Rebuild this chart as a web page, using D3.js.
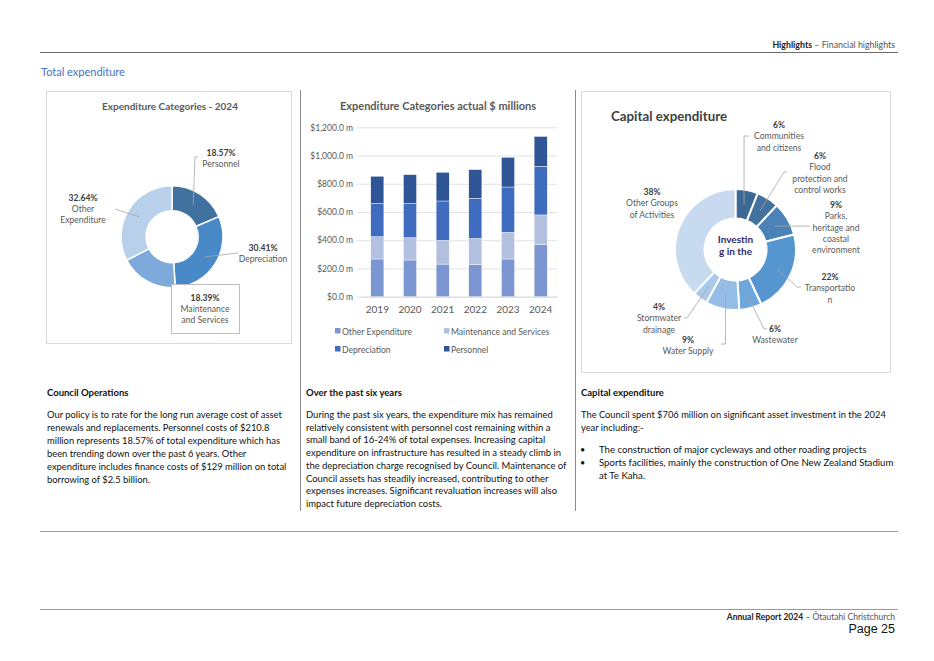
<!DOCTYPE html>
<html><head><meta charset="utf-8">
<script src="https://cdn.jsdelivr.net/npm/d3@7"></script>
<style>
html,body{margin:0;padding:0;background:#fff;}
svg{display:block;font-family:Lato, "Open Sans", sans-serif;}
</style></head>
<body><svg id="c" width="934" height="661"></svg>
<script>
// ---------- DATA ----------
const pie1Categories = ["Personnel", "Depreciation", "Maintenance and Services", "Other Expenditure"];
const pie1Values = [18.57, 30.41, 18.39, 32.64];

const barYears = ["2019", "2020", "2021", "2022", "2023", "2024"];
const barSeries = ["Other Expenditure", "Maintenance and Services", "Depreciation", "Personnel"];
const otherExpenditure = [267, 260, 231, 227, 267, 370.5];
const maintenanceServices = [158, 158, 168, 186, 189, 208.7];
const depreciation = [236, 243, 279, 284, 321, 345.2];
const personnel = [192, 203, 203, 203, 210, 210.8];
const barTicks = [0, 200, 400, 600, 800, 1000, 1200];

const capCategories = ["Communities and citizens", "Flood protection and control works", "Parks, heritage and coastal environment", "Transportation", "Wastewater", "Water Supply", "Stormwater drainage", "Other Groups of Activities"];
const capValues = [6, 6, 9, 22, 6, 9, 4, 38];

// ---------- STYLE / LAYOUT ----------
const svg = d3.select("#c");
const grey = "#595959";
const lead = "#a6a6a6";

svg.append("rect").attr("width", 934).attr("height", 661).attr("fill", "#fff");

// page header
svg.append("line").attr("x1", 40).attr("x2", 898).attr("y1", 52.5).attr("y2", 52.5).attr("stroke", "#6b6b6b").attr("stroke-width", 1);
const hdr = svg.append("text").attr("x", 895).attr("y", 48).attr("text-anchor", "end").attr("font-size", 8.8).attr("fill", "#222");
hdr.append("tspan").attr("font-weight", "bold").text("Highlights");
hdr.append("tspan").attr("fill", "#555").text(" – Financial highlights");

svg.append("text").attr("x", 41).attr("y", 76).attr("font-size", 11).attr("fill", "#4472c4").text("Total expenditure");

// vertical separators
[300.5, 575.5].forEach(x => svg.append("line").attr("x1", x).attr("x2", x).attr("y1", 90).attr("y2", 511).attr("stroke", "#8a8a8a").attr("stroke-width", 1));

// bottom lines
svg.append("line").attr("x1", 40).attr("x2", 898).attr("y1", 531.5).attr("y2", 531.5).attr("stroke", "#999").attr("stroke-width", 1);
svg.append("line").attr("x1", 40).attr("x2", 898).attr("y1", 609.5).attr("y2", 609.5).attr("stroke", "#999").attr("stroke-width", 1);
const ftr = svg.append("text").attr("x", 895).attr("y", 620).attr("text-anchor", "end").attr("font-size", 8.5).attr("fill", "#222");
ftr.append("tspan").attr("font-weight", "bold").text("Annual Report 2024");
ftr.append("tspan").attr("fill", "#555").text(" – Ōtautahi Christchurch");
svg.append("text").attr("x", 895).attr("y", 633).attr("text-anchor", "end").attr("font-size", 12.5).attr("font-family", "Liberation Sans, Arial, sans-serif").attr("fill", "#111").text("Page 25");

// ---------- PIE 1 ----------
svg.append("rect").attr("x", 46.5).attr("y", 91.5).attr("width", 245).attr("height", 252).attr("fill", "#fff").attr("stroke", "#d9d9d9");
svg.append("text").attr("x", 170).attr("y", 110).attr("text-anchor", "middle").attr("font-size", 10).attr("font-weight", "bold").attr("fill", grey).text("Expenditure Categories - 2024");

const p1c = [172, 236.7];
const pie1Colors = ["#41729f", "#4a89c8", "#7eaadb", "#b9d0ea"];
const pie1 = d3.pie().sort(null).startAngle(0).endAngle(2 * Math.PI)(pie1Values);
const arc1 = d3.arc().innerRadius(26).outerRadius(51);
const g1 = svg.append("g").attr("transform", `translate(${p1c})`);
g1.selectAll("path").data(pie1).join("path").attr("d", arc1).attr("fill", (d, i) => pie1Colors[i]).attr("stroke", "#fff").attr("stroke-width", 1.5);

// label layout for pie 1 (positions)
const pie1Labels = [
  {x: 221, y: 156, lines: ["Personnel"], elbow: [[195, 157], [198, 157]]},
  {x: 263, y: 251, lines: ["Depreciation"], elbow: [[238, 253]]},
  {x: 205, y: 301, lines: ["Maintenance", "and Services"], elbow: null, box: [171, 284, 68, 49]},
  {x: 83, y: 201, lines: ["Other", "Expenditure"], elbow: [[115, 209]]}
];
pie1Labels.forEach((L, i) => {
  const c = arc1.centroid(pie1[i]);
  const p0 = [c[0] + p1c[0], c[1] + p1c[1]];
  if (L.box) svg.append("rect").attr("x", L.box[0] + .5).attr("y", L.box[1] + .5).attr("width", L.box[2]).attr("height", L.box[3]).attr("fill", "#fff").attr("stroke", "#bfbfbf");
  if (L.elbow) svg.append("polyline").attr("points", [p0].concat(L.elbow).map(p => p.join(",")).join(" ")).attr("fill", "none").attr("stroke", lead).attr("stroke-width", 0.8);
  const t = svg.append("text").attr("text-anchor", "middle").attr("font-size", 8.6).attr("fill", grey);
  t.append("tspan").attr("x", L.x).attr("y", L.y).attr("font-weight", "bold").attr("fill", "#404040").text(d3.format(".2f")(pie1Values[i]) + "%");
  L.lines.forEach((s, k) => t.append("tspan").attr("x", L.x).attr("y", L.y + 11 * (k + 1)).text(s));
});

// ---------- BAR CHART ----------
svg.append("text").attr("x", 438).attr("y", 110).attr("text-anchor", "middle").attr("font-size", 11).attr("font-weight", "bold").attr("fill", grey).text("Expenditure Categories actual $ millions");
const x = d3.scaleBand().domain(barYears).range([361, 557]).paddingInner(0.6).paddingOuter(0.3);
const y = d3.scaleLinear().domain([0, 1200]).range([296.7, 127.3]);
const yAxis = svg.append("g").attr("transform", "translate(357,0)").call(d3.axisLeft(y).tickValues(barTicks).tickSize(-200).tickFormat(d => "$" + d3.format(",.1f")(d) + " m"));
yAxis.select(".domain").remove();
yAxis.selectAll(".tick line").attr("stroke", "#d9d9d9").attr("stroke-width", 0.8);
yAxis.selectAll(".tick text").attr("x", -4).attr("font-size", 8.5).attr("fill", grey).attr("font-family", "Lato, sans-serif");
const xAxis = svg.append("g").attr("transform", "translate(0,296.7)").call(d3.axisBottom(x).tickSize(0).tickPadding(9));
xAxis.select(".domain").attr("stroke", "#d9d9d9");
xAxis.selectAll(".tick text").attr("font-size", 10).attr("fill", grey).attr("font-family", "Lato, sans-serif");

const barColors = ["#7b96d0", "#b4c0e0", "#3f6cbf", "#2f5597"];
const rows = barYears.map((yr, i) => ({year: yr, "Other Expenditure": otherExpenditure[i], "Maintenance and Services": maintenanceServices[i], "Depreciation": depreciation[i], "Personnel": personnel[i]}));
const stacked = d3.stack().keys(barSeries)(rows);
svg.append("g").selectAll("g").data(stacked).join("g").attr("fill", (d, i) => barColors[i])
  .selectAll("rect").data(d => d).join("rect")
  .attr("x", d => x(d.data.year)).attr("width", x.bandwidth())
  .attr("y", d => y(d[1])).attr("height", d => y(d[0]) - y(d[1]))
  .attr("stroke", "#fff").attr("stroke-width", 0.4);

const legPos = [[335, 331.5], [444, 331.5], [335, 349.5], [444, 349.5]];
barSeries.forEach((s, i) => {
  svg.append("rect").attr("x", legPos[i][0]).attr("y", legPos[i][1] - 3.5).attr("width", 5.5).attr("height", 5.5).attr("fill", barColors[i]);
  svg.append("text").attr("x", legPos[i][0] + 7).attr("y", legPos[i][1] + 3).attr("font-size", 8.6).attr("fill", grey).text(s);
});

// ---------- PIE 2 ----------
svg.append("rect").attr("x", 581.5).attr("y", 91.5).attr("width", 309).attr("height", 281).attr("fill", "#fff").attr("stroke", "#d9d9d9");
svg.append("text").attr("x", 611).attr("y", 121).attr("font-size", 13.3).attr("font-weight", "bold").attr("fill", "#404040").text("Capital expenditure");

const p2c = [735.5, 249.5];
const capColors = ["#3c6994", "#43729f", "#4b82b8", "#5596d0", "#6ea7dc", "#95bde5", "#aac8ea", "#c8daf0"];
const pie2 = d3.pie().sort(null).startAngle(0).endAngle(2 * Math.PI)(capValues);
const arc2 = d3.arc().innerRadius(31).outerRadius(60.5);
const g2 = svg.append("g").attr("transform", `translate(${p2c})`);
g2.selectAll("path").data(pie2).join("path").attr("d", arc2).attr("fill", (d, i) => capColors[i]).attr("stroke", "#fff").attr("stroke-width", 2);
const ct = svg.append("text").attr("text-anchor", "middle").attr("font-size", 10).attr("font-weight", "bold").attr("fill", "#2f2a6b");
ct.append("tspan").attr("x", p2c[0]).attr("y", 243).text("Investin");
ct.append("tspan").attr("x", p2c[0]).attr("y", 255).text("g in the");

const capLabels = [
  {x: 779, y: 128, lines: ["Communities", "and citizens"], elbow: [[null, 136], [749, 136]]},
  {x: 820, y: 159, lines: ["Flood", "protection and", "control works"], elbow: [[784, 172], [787, 172]]},
  {x: 836, y: 208, lines: ["Parks,", "heritage and", "coastal", "environment"], elbow: [[810, 226]]},
  {x: 830, y: 280, lines: ["Transportatio", "n"], elbow: [[797, 287], [801, 287]]},
  {x: 775, y: 332, lines: ["Wastewater"], elbow: [[764, 329], [767, 329]]},
  {x: 688, y: 343, lines: ["Water Supply"], elbow: [[null, 344], [721, 344]]},
  {x: 659, y: 310, lines: ["Stormwater", "drainage"], elbow: [[687, 318], [684, 318]]},
  {x: 652, y: 195, lines: ["Other Groups", "of Activities"], elbow: null}
];
capLabels.forEach((L, i) => {
  const c = arc2.centroid(pie2[i]);
  const p0 = [c[0] + p2c[0], c[1] + p2c[1]];
  if (L.elbow) {
    const pts = [p0].concat(L.elbow.map(p => [p[0] === null ? p0[0] : p[0], p[1]]));
    svg.append("polyline").attr("points", pts.map(p => p.join(",")).join(" ")).attr("fill", "none").attr("stroke", lead).attr("stroke-width", 0.8);
  }
  const t = svg.append("text").attr("text-anchor", "middle").attr("font-size", 8.6).attr("fill", grey);
  t.append("tspan").attr("x", L.x).attr("y", L.y).attr("font-weight", "bold").attr("fill", "#404040").text(capValues[i] + "%");
  L.lines.forEach((s, k) => t.append("tspan").attr("x", L.x).attr("y", L.y + 11.3 * (k + 1)).text(s));
});

// ---------- BODY TEXT ----------
function para(x, y, lines, lh, targetW, size) {
  const t = svg.append("text").attr("font-size", size).attr("fill", "#111");
  lines.forEach((s, k) => t.append("tspan").attr("x", x).attr("y", y + lh * k).text(s));
  // fit font size so the first line matches the reference width
  const w = t.select("tspan").node().getComputedTextLength();
  t.attr("font-size", size * targetW / w);
  return t;
}
const bodyFont = 9.5;
svg.append("text").attr("x", 47).attr("y", 396).attr("font-size", 9.5).attr("font-weight", "bold").attr("fill", "#111").text("Council Operations");
para(47, 418, ["Our policy is to rate for the long run average cost of asset", "renewals and replacements. Personnel costs of $210.8", "million represents 18.57% of total expenditure which has", "been trending down over the past 6 years. Other", "expenditure includes finance costs of $129 million on total", "borrowing of $2.5 billion."], 13, 235, bodyFont);

svg.append("text").attr("x", 306).attr("y", 396).attr("font-size", 9.5).attr("font-weight", "bold").attr("fill", "#111").text("Over the past six years");
para(306, 418, ["During the past six years, the expenditure mix has remained", "relatively consistent with personnel cost remaining within a", "small band of 16-24% of total expenses. Increasing capital", "expenditure on infrastructure has resulted in a steady climb in", "the depreciation charge recognised by Council. Maintenance of", "Council assets has steadily increased, contributing to other", "expenses increases. Significant revaluation increases will also", "impact future depreciation costs."], 12.7, 247, bodyFont);

svg.append("text").attr("x", 581).attr("y", 396).attr("font-size", 9.5).attr("font-weight", "bold").attr("fill", "#111").text("Capital expenditure");
para(581, 418, ["The Council spent $706 million on significant asset investment in the 2024", "year including:-"], 13, 305, bodyFont);
const bl = para(599, 453, ["The construction of major cycleways and other roading projects", "Sports facilities, mainly the construction of One New Zealand Stadium", "at Te Kaha."], 13, 268, bodyFont);
[453, 466].forEach(yy => svg.append("text").attr("x", 580).attr("y", yy).attr("font-size", 9).attr("fill", "#111").text("•"));
</script></body></html>
